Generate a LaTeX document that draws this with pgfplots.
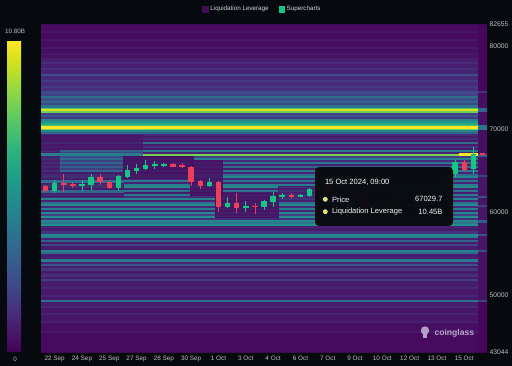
\documentclass[border=0pt]{standalone}
\usepackage{pgfplots}
\usepackage{pgfplotstable}
\pgfplotsset{compat=1.18}
\usepackage{fontspec}
\setmainfont{Liberation Sans}
\definecolor{bgc}{RGB}{6,9,14}
\definecolor{upc}{RGB}{22,199,132}
\definecolor{dnc}{RGB}{236,62,86}
\definecolor{tickc}{RGB}{190,190,190}
\definecolor{legc}{RGB}{214,214,214}
\definecolor{legp}{RGB}{62,16,82}
\definecolor{tipbg}{RGB}{8,10,14}
\definecolor{dotc}{RGB}{232,226,70}
\definecolor{wmc}{RGB}{205,195,225}

\pgfplotsset{
  heat/.style={surf, shader=flat corner, point meta=explicit, forget plot, z buffer=none},
  base/.style={scale only axis, width=446bp, height=328bp, at={(41bp,13.5bp)}, anchor=south west,
    xmin=21.25, xmax=45.75, ymin=43044, ymax=82655},
}
% \cell{x1}{x2}{y1}{y2}{value}{opacity}
\newcommand{\cell}[6]{\addplot3[heat, mesh/cols=2, fill opacity=#6] coordinates {(#1,#3,0) [#5] (#2,#3,0) [#5] (#1,#4,0) [#5] (#2,#4,0) [#5]};}

% candles: t = day (Sep days; Oct = 30 + day), o h l c
\pgfplotstableread{
t o h l c
22.0 62570 63850 62250 63530
23.5 63250 63850 62570 63410
24.0 63290 64660 62650 64180
25.5 62970 64460 62570 64340
26.0 64260 65660 64060 65060
26.5 64980 65860 64660 65340
27.0 65260 66350 65140 65660
27.5 65620 66140 65260 65780
28.0 65660 65940 65460 65820
30.5 63170 64060 62970 63650
31.5 60640 61850 60440 61120
32.5 60560 61360 60040 60720
33.5 60560 61520 60240 61360
34.0 61240 62370 60640 61970
34.5 61930 62330 61610 62050
35.5 61930 62200 61800 62010
36.0 61970 62970 61770 62770
36.5 62770 64450 62500 63900
38.0 62100 62500 61900 62200
39.5 60600 61300 60300 60900
40.5 60300 62000 60200 61800
41.0 61800 63400 61700 62400
41.5 62400 63000 62200 62900
42.0 62900 63400 62700 63100
43.0 62800 63000 62400 62900
43.5 62900 64200 62700 64000
44.0 64660 66260 64260 66060
45.0 65260 67870 64660 66990
}\up
\pgfplotstableread{
t o h l c
21.5 63210 63330 62450 62570
22.5 63530 64580 62450 63290
23.0 63370 63650 62930 63210
24.5 64180 64660 63330 63650
25.0 63690 63850 62810 62970
28.5 65820 65900 65420 65500
29.0 65660 65940 65380 65500
29.5 65460 65540 63130 63650
30.0 63730 63930 62730 63170
31.0 63650 63730 60040 60640
32.0 61120 62250 59840 60440
33.0 60760 61040 59760 60600
35.0 62050 62300 61700 61930
37.0 63900 64100 62300 62300
37.5 62300 62700 61800 62100
38.5 62200 62400 61500 61800
39.0 61800 62000 60500 60600
40.0 60900 61100 59000 60300
42.5 63100 63300 62500 62800
44.5 66060 66260 64860 65140
45.5 67030 67060 66720 66950
}\dn

\begin{document}
\begin{tikzpicture}
\useasboundingbox (0,0) rectangle (512bp,366bp);
\fill[bgc] (0,0) rectangle (512bp,366bp);

% ---------------- heatmap ----------------
\begin{axis}[base, view={0}{90}, hide axis, colormap/viridis,
  point meta min=0, point meta max=10.8, zmin=-1, zmax=1]
\addplot3[heat, mesh/cols=2] table[x=x, y=y, z expr=0, meta=v] {
x y v
21.25 43044 0.3
45.27 43044 0.3
21.25 45520 0.7
45.27 45520 0.7
21.25 45762 0.4
45.27 45762 0.4
21.25 46728 0.9
45.27 46728 0.9
21.25 46969 0.6
45.27 46969 0.6
21.25 47694 1.0
45.27 47694 1.0
21.25 47935 0.6
45.27 47935 0.6
21.25 48539 1.2
45.27 48539 1.2
21.25 48781 0.8
45.27 48781 0.8
21.25 49264 4.0
45.27 49264 4.0
21.25 49505 0.7
45.27 49505 0.7
21.25 49868 1.1
45.27 49868 1.1
21.25 50109 0.7
45.27 50109 0.7
21.25 50834 1.2
45.27 50834 1.2
21.25 51075 0.8
45.27 51075 0.8
21.25 51800 2.0
45.27 51800 2.0
21.25 52042 0.8
45.27 52042 0.8
21.25 52283 1.4
45.27 52283 1.4
21.25 52645 0.8
45.27 52645 0.8
21.25 53008 1.6
45.27 53008 1.6
21.25 53370 0.8
45.27 53370 0.8
21.25 53612 2.8
45.27 53612 2.8
21.25 53853 1.0
45.27 53853 1.0
21.25 54095 4.4
45.27 54095 4.4
21.25 54457 0.9
45.27 54457 0.9
21.25 55061 3.8
45.27 55061 3.8
21.25 55302 4.8
45.27 55302 4.8
21.25 55544 0.8
45.27 55544 0.8
21.25 56027 2.2
45.27 56027 2.2
21.25 56269 0.8
45.27 56269 0.8
21.25 56510 3.4
45.27 56510 3.4
21.25 56752 1.0
45.27 56752 1.0
21.25 56993 4.6
45.27 56993 4.6
21.25 57235 5.2
45.27 57235 5.2
21.25 57476 1.6
45.27 57476 1.6
21.25 57839 0.8
45.27 57839 0.8
21.25 58201 1.0
45.27 58201 1.0
21.25 58442 5.4
45.27 58442 5.4
21.25 58684 4.2
45.27 58684 4.2
21.25 58925 5.0
45.27 58925 5.0
21.25 59167 1.4
45.27 59167 1.4
21.25 59409 5.4
45.27 59409 5.4
21.25 59650 2.0
45.27 59650 2.0
21.25 59892 5.0
45.27 59892 5.0
21.25 60133 1.0
45.27 60133 1.0
21.25 60375 4.6
45.27 60375 4.6
21.25 60616 1.2
45.27 60616 1.2
21.25 60858 5.2
45.27 60858 5.2
21.25 61099 3.8
45.27 61099 3.8
21.25 61341 1.0
45.27 61341 1.0
21.25 61582 4.8
45.27 61582 4.8
21.25 61824 1.4
45.27 61824 1.4
21.25 62065 4.4
45.27 62065 4.4
21.25 62307 0.8
45.27 62307 0.8
21.25 62549 4.0
45.27 62549 4.0
21.25 62790 1.0
45.27 62790 1.0
21.25 63032 5.2
45.27 63032 5.2
21.25 63273 4.6
45.27 63273 4.6
21.25 63515 1.0
45.27 63515 1.0
21.25 63756 4.2
45.27 63756 4.2
21.25 63998 1.2
45.27 63998 1.2
21.25 64239 5.0
45.27 64239 5.0
21.25 64481 3.8
45.27 64481 3.8
21.25 64722 1.0
45.27 64722 1.0
21.25 64964 4.4
45.27 64964 4.4
21.25 65205 0.8
45.27 65205 0.8
21.25 65447 3.6
45.27 65447 3.6
21.25 65689 1.0
45.27 65689 1.0
21.25 65930 4.2
45.27 65930 4.2
21.25 66172 1.2
45.27 66172 1.2
21.25 66413 4.6
45.27 66413 4.6
21.25 66655 2.0
45.27 66655 2.0
21.25 66836 8.6
45.27 66836 8.6
21.25 67138 1.0
45.27 67138 1.0
21.25 67379 4.4
45.27 67379 4.4
21.25 67621 0.8
45.27 67621 0.8
21.25 67862 1.6
45.27 67862 1.6
21.25 68104 0.8
45.27 68104 0.8
21.25 68346 3.8
45.27 68346 3.8
21.25 68587 0.7
45.27 68587 0.7
21.25 68829 1.4
45.27 68829 1.4
21.25 69070 0.8
45.27 69070 0.8
21.25 69312 1.2
45.27 69312 1.2
21.25 69553 3.5
45.27 69553 3.5
21.25 69795 5.0
45.27 69795 5.0
21.25 69976 8.6
45.27 69976 8.6
21.25 70157 10.8
45.27 70157 10.8
21.25 70459 7.8
45.27 70459 7.8
21.25 70640 6.6
45.27 70640 6.6
21.25 70882 5.6
45.27 70882 5.6
21.25 71123 4.8
45.27 71123 4.8
21.25 71365 1.8
45.27 71365 1.8
21.25 71606 2.8
45.27 71606 2.8
21.25 71848 2.0
45.27 71848 2.0
21.25 72089 8.4
45.27 72089 8.4
21.25 72246 10.2
45.27 72246 10.2
21.25 72488 7.8
45.27 72488 7.8
21.25 72693 4.2
45.27 72693 4.2
21.25 73056 2.2
45.27 73056 2.2
21.25 73297 3.6
45.27 73297 3.6
21.25 73539 2.6
45.27 73539 2.6
21.25 73901 3.9
45.27 73901 3.9
21.25 74142 2.0
45.27 74142 2.0
21.25 74384 2.4
45.27 74384 2.4
21.25 74746 1.4
45.27 74746 1.4
21.25 75109 1.8
45.27 75109 1.8
21.25 75350 1.3
45.27 75350 1.3
21.25 75833 1.9
45.27 75833 1.9
21.25 76075 1.3
45.27 76075 1.3
21.25 76558 2.6
45.27 76558 2.6
21.25 76799 1.0
45.27 76799 1.0
21.25 77283 1.4
45.27 77283 1.4
21.25 77524 0.9
45.27 77524 0.9
21.25 78007 1.3
45.27 78007 1.3
21.25 78249 0.9
45.27 78249 0.9
21.25 78732 0.45
45.27 78732 0.45
21.25 79094 0.7
45.27 79094 0.7
21.25 79336 0.4
45.27 79336 0.4
21.25 79819 0.7
45.27 79819 0.7
21.25 80060 0.35
45.27 80060 0.35
21.25 80785 0.6
45.27 80785 0.6
21.25 81026 0.3
45.27 81026 0.3
21.25 81751 0.6
45.27 81751 0.6
21.25 81992 0.3
45.27 81992 0.3
21.25 82655 0.3
45.27 82655 0.3
};
% last (current) column
\addplot3[heat, mesh/cols=2] table[x=x, y=y, z expr=0, meta=v] {
x y v
45.27 43044 0.2
45.75 43044 0.2
45.27 49264 2.0
45.75 49264 2.0
45.27 49505 0.5
45.75 49505 0.5
45.27 55302 2.4
45.75 55302 2.4
45.27 55544 0.6
45.75 55544 0.6
45.27 57235 2.6
45.75 57235 2.6
45.27 57476 0.6
45.75 57476 0.6
45.27 58805 3.0
45.75 58805 3.0
45.27 59167 0.6
45.75 59167 0.6
45.27 60737 2.0
45.75 60737 2.0
45.27 60979 0.6
45.75 60979 0.6
45.27 61824 2.4
45.75 61824 2.4
45.27 62065 0.6
45.75 62065 0.6
45.27 64360 2.0
45.75 64360 2.0
45.27 64602 0.5
45.75 64602 0.5
45.27 66776 3.0
45.75 66776 3.0
45.27 67138 0.4
45.75 67138 0.4
45.27 70036 4.0
45.75 70036 4.0
45.27 70640 0.5
45.75 70640 0.5
45.27 72210 3.5
45.75 72210 3.5
45.27 72693 0.4
45.75 72693 0.4
45.27 74505 1.5
45.75 74505 1.5
45.27 74746 0.2
45.75 74746 0.2
45.27 82655 0.2
45.75 82655 0.2
};
% time-dependent zones around the price path
\cell{21.25}{26.8}{67500}{69312}{0.6}{0.8}
\cell{21.25}{22.3}{64843}{67500}{0.8}{0.8}
\cell{22.3}{26.8}{64843}{67500}{3.0}{0.55}
\cell{21.25}{26.7}{66836}{67138}{4.6}{1}
\cell{21.25}{25.76}{61945}{64843}{0.7}{0.8}
\cell{21.25}{25.76}{63635}{63877}{3.8}{1}
\cell{21.25}{25.76}{62428}{62669}{3.6}{1}
\cell{25.76}{29.61}{64118}{66776}{0.4}{0.88}
\cell{29.45}{31.2}{62065}{66292}{0.45}{0.88}
\cell{30.82}{34.28}{59409}{62307}{0.45}{0.88}
\cell{34.28}{37.69}{61462}{63152}{0.8}{0.75}
\cell{44.2}{45.2}{66836}{67080}{10.8}{1}
\end{axis}

% ---------------- candles, ticks, colorbar, legend ----------------
\begin{axis}[base,
  axis line style={draw=none}, tick style={draw=none},
  xtick={22,23.5,25,26.5,28,29.5,31,32.5,34,35.5,37,38.5,40,41.5,43,44.5},
  xticklabels={22 Sep,24 Sep,25 Sep,27 Sep,28 Sep,30 Sep,1 Oct,3 Oct,4 Oct,6 Oct,7 Oct,9 Oct,10 Oct,12 Oct,13 Oct,15 Oct},
  ytick={43044,50000,60000,70000,80000,82655},
  yticklabels={43044,50000,60000,70000,80000,82655},
  scaled y ticks=false,
  yticklabel pos=right,
  xticklabel style={font=\fontsize{6.4}{7}\selectfont, text=tickc, yshift=-0.5bp},
  yticklabel style={font=\fontsize{6.8}{7}\selectfont, text=tickc, xshift=-1bp},
  colormap/viridis, point meta min=0, point meta max=10.8,
  colorbar, colorbar shift/.style={xshift=0bp},
  colorbar style={at={(parent axis.south west)}, anchor=south west, xshift=-34bp, yshift=1bp,
    scale only axis, width=16bp, height=311bp, ytick=\empty, xtick=\empty,
    axis line style={draw=none}},
  legend columns=2,
  legend style={at={(0.4966,1.047)}, anchor=center, draw=none, fill=none, text=legc,
    font=\fontsize{6.3}{7}\selectfont, inner sep=0pt,
    /tikz/every even column/.append style={column sep=8bp}},
]
\addlegendimage{legend image code/.code={\fill[legp] (0bp,-2.8bp) rectangle (5.6bp,2.8bp);}}
\addlegendentry{Liquidation Leverage}
\addlegendimage{legend image code/.code={\fill[upc] (0bp,-2.8bp) rectangle (5.6bp,2.8bp);}}
\addlegendentry{Supercharts}

\addplot[forget plot, draw=none, mark=none, error bars/.cd, y dir=both, y explicit, error mark=none,
  error bar style={draw=upc, line width=0.8bp}]
  table[x=t, y expr={(\thisrow{h}+\thisrow{l})/2}, y error expr={(\thisrow{h}-\thisrow{l})/2}] {\up};
\addplot[forget plot, draw=none, mark=none, error bars/.cd, y dir=both, y explicit, error mark=none,
  error bar style={draw=upc, line width=5.5bp}]
  table[x=t, y expr={(\thisrow{o}+\thisrow{c})/2}, y error expr={max(abs(\thisrow{o}-\thisrow{c})/2,90)}] {\up};
\addplot[forget plot, draw=none, mark=none, error bars/.cd, y dir=both, y explicit, error mark=none,
  error bar style={draw=dnc, line width=0.8bp}]
  table[x=t, y expr={(\thisrow{h}+\thisrow{l})/2}, y error expr={(\thisrow{h}-\thisrow{l})/2}] {\dn};
\addplot[forget plot, draw=none, mark=none, error bars/.cd, y dir=both, y explicit, error mark=none,
  error bar style={draw=dnc, line width=5.5bp}]
  table[x=t, y expr={(\thisrow{o}+\thisrow{c})/2}, y error expr={max(abs(\thisrow{o}-\thisrow{c})/2,90)}] {\dn};
\end{axis}

% colorbar labels
\node[text=tickc, font=\fontsize{6.3}{7}\selectfont] at (15bp,335bp) {10.80B};
\node[text=tickc, font=\fontsize{6.3}{7}\selectfont] at (15bp,7bp) {0};

% tooltip
\fill[tipbg, rounded corners=4bp, opacity=0.97] (315bp,140bp) rectangle (453bp,199bp);
\node[anchor=west, text=white, font=\fontsize{7.6}{9}\selectfont] at (321.5bp,183.7bp) {15 Oct 2024, 09:00};
\filldraw[fill=dotc, draw=white!85!dotc, line width=0.4bp] (325.3bp,166.7bp) circle (2.1bp);
\node[anchor=west, text=white!92!gray, font=\fontsize{7.6}{9}\selectfont] at (328.5bp,166.7bp) {Price};
\node[anchor=east, text=white!92!gray, font=\fontsize{7.6}{9}\selectfont] at (446bp,166.7bp) {67029.7};
\filldraw[fill=dotc, draw=white!85!dotc, line width=0.4bp] (325.3bp,154.3bp) circle (2.1bp);
\node[anchor=west, text=white!92!gray, font=\fontsize{7.6}{9}\selectfont] at (328.5bp,154.3bp) {Liquidation Leverage};
\node[anchor=east, text=white!92!gray, font=\fontsize{7.6}{9}\selectfont] at (446bp,154.3bp) {10.45B};

% watermark
\fill[wmc, opacity=0.8] (425bp,35.5bp) circle (4.2bp);
\fill[wmc, opacity=0.8] (422.8bp,27.6bp) rectangle (427.2bp,32bp);
\node[anchor=west, text=wmc, opacity=0.85, font=\bfseries\fontsize{8.6}{9}\selectfont] at (431bp,33bp) {coinglass};
\end{tikzpicture}
\end{document}
